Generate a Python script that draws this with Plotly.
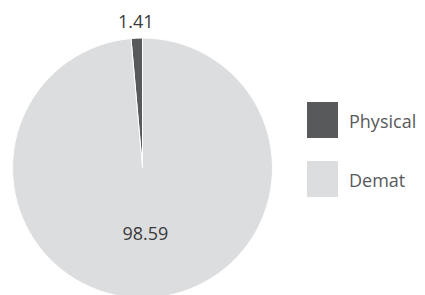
import math
import plotly.graph_objects as go

labels = ["Physical", "Demat"]
values = [1.41, 98.59]
colors = ["#58595b", "#dcdddf"]

W, H = 425, 295
# the page body adds an 8px offset; geometry below is in figure pixels
cx, cy, R = 134.5, 160, 130

total = sum(values)
first_deg = values[0] / total * 360

fig = go.Figure(go.Pie(
    labels=labels,
    values=values,
    marker=dict(colors=colors, line=dict(color="white", width=1)),
    sort=False,
    direction="clockwise",
    rotation=-first_deg,
    texttemplate="%{value:.2f}",
    textposition=["none", "inside"],
    insidetextorientation="horizontal",
    textfont=dict(family="Open Sans", size=18, color="#3a3a3a"),
    domain=dict(x=[(cx - R) / W, (cx + R) / W], y=[1 - (cy + R) / H, 1 - (cy - R) / H]),
    showlegend=False,
    hoverinfo="label+value",
))

# outside label for the small slice, placed at its mid-angle
mid = math.radians(first_deg / 2)
lr = R + 17
lx = cx - lr * math.sin(mid)
ly = cy - lr * math.cos(mid)
annotations = [dict(x=lx / W, y=1 - ly / H, xref="paper", yref="paper",
                    text=f"{values[0]:.2f}", showarrow=False,
                    xanchor="center", yanchor="middle",
                    font=dict(family="Open Sans", size=18, color="#3a3a3a"))]

# custom legend
legend_y = [112, 171]
shapes = []
for lab, col, yc in zip(labels, colors, legend_y):
    shapes.append(dict(type="rect", xref="paper", yref="paper",
                       x0=299 / W, x1=330 / W,
                       y0=1 - (yc + 18) / H, y1=1 - (yc - 18) / H,
                       fillcolor=col, line=dict(width=0)))
    annotations.append(dict(x=339 / W, y=1 - (yc + 1) / H, xref="paper", yref="paper",
                            text=lab, showarrow=False, xanchor="left", yanchor="middle",
                            font=dict(family="Open Sans", size=18, color="#58595b")))

fig.update_layout(
    width=W, height=H,
    margin=dict(l=0, r=0, t=0, b=0),
    paper_bgcolor="white",
    plot_bgcolor="white",
    shapes=shapes,
    annotations=annotations,
)

fig.write_html("out.html")
